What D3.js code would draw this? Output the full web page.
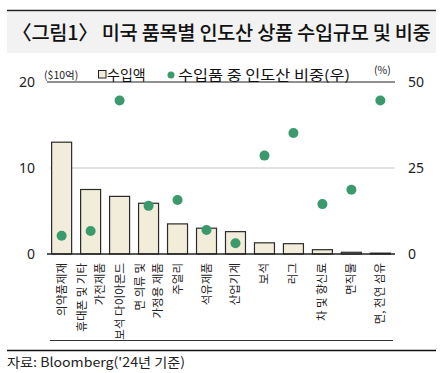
<!DOCTYPE html>
<html>
<head>
<meta charset="utf-8">
<script src="https://cdn.jsdelivr.net/npm/d3@7"></script>
<style>
  body { margin: 0; background: #fff; }
  text { font-family: "Noto Sans CJK KR", "Noto Sans", sans-serif; }
</style>
</head>
<body>
<div id="chart"></div>
<script>
// categories (multi-line labels split by |)
const categories = ["의약품제재", "휴대폰 및 기타|가전제품", "보석 다이아몬드", "면 의류 및|가정용 제품",
  "주얼리", "석유제품", "산업기계", "보석", "러그", "차 및 향신료", "면직물", "면, 천연 섬유"];
// 수입액 ($10억)
const importValue = [13.0, 7.5, 6.7, 5.9, 3.5, 3.0, 2.6, 1.3, 1.2, 0.5, 0.2, 0.1];
// 수입품 중 인도산 비중 (%)
const indiaShare = [5.3, 6.7, 44.6, 14.0, 15.7, 7.0, 3.1, 28.6, 35.2, 14.5, 18.7, 44.6];
const leftTicks = [0, 10, 20];
const rightTicks = [0, 25, 50];

const width = 443, height = 373;
const margin = {top: 82, right: 48, bottom: 119, left: 47};
const plotW = width - margin.left - margin.right;
const plotH = height - margin.top - margin.bottom;

const svg = d3.select("#chart").append("svg")
  .attr("width", width)
  .attr("height", height);

// title band
svg.append("rect").attr("x", 7).attr("y", 12).attr("width", 429).attr("height", 41).attr("fill", "#f2f2f2");
svg.append("line").attr("x1", 7).attr("x2", 436).attr("y1", 10.5).attr("y2", 10.5)
  .attr("stroke", "#222").attr("stroke-width", 1.3);
const title = svg.append("text")
  .attr("x", 12).attr("y", 40)
  .attr("font-size", 21).attr("font-weight", 500).attr("fill", "#111")
  .attr("letter-spacing", -0.3)
  .text("〈그림1〉 미국 품목별 인도산 상품 수입규모 및 비중");
// shrink the font until the title fits the band
let fs = 21;
while (title.node().getComputedTextLength() > 420 && fs > 14) {
  fs -= 0.25;
  title.attr("font-size", fs);
}

const g = svg.append("g").attr("transform", `translate(${margin.left},${margin.top})`);

const x = d3.scaleBand().domain(categories).range([0, plotW]).paddingInner(0.31).paddingOuter(0.16);
const yL = d3.scaleLinear().domain([0, 20]).range([plotH, 0]);
const yR = d3.scaleLinear().domain([0, 50]).range([plotH, 0]);

// gridline at 10
g.append("g").selectAll("line").data([10]).join("line")
  .attr("x1", 3).attr("x2", plotW)
  .attr("y1", d => yL(d)).attr("y2", d => yL(d))
  .attr("stroke", "#d9d9d9").attr("stroke-width", 1.5);

// left axis
const leftAxis = g.append("g").call(d3.axisLeft(yL).tickValues(leftTicks).tickSize(0).tickPadding(12));
leftAxis.select(".domain").remove();
leftAxis.selectAll("text").attr("font-size", 14).attr("fill", "#222")
  .style("font-family", "'Noto Sans', sans-serif");

// right axis
const rightAxis = g.append("g").attr("transform", `translate(${plotW},0)`)
  .call(d3.axisRight(yR).tickValues(rightTicks).tickSize(0).tickPadding(13));
rightAxis.select(".domain").remove();
rightAxis.selectAll("text").attr("font-size", 14).attr("fill", "#222")
  .style("font-family", "'Noto Sans', sans-serif");

// bars
g.selectAll("rect.bar").data(categories).join("rect")
  .attr("class", "bar")
  .attr("x", d => x(d))
  .attr("y", (d, i) => yL(importValue[i]))
  .attr("width", x.bandwidth())
  .attr("height", (d, i) => plotH - yL(importValue[i]))
  .attr("fill", "#f2ecdb")
  .attr("stroke", "#2b2b2b").attr("stroke-width", 1.2);

// baseline + legend line
g.append("line").attr("x1", 0).attr("x2", plotW).attr("y1", plotH).attr("y2", plotH)
  .attr("stroke", "#222").attr("stroke-width", 1.3);
g.append("line").attr("x1", 0).attr("x2", plotW).attr("y1", 0).attr("y2", 0)
  .attr("stroke", "#222").attr("stroke-width", 1.2);

// dots
g.selectAll("circle.dot").data(categories).join("circle")
  .attr("class", "dot")
  .attr("cx", d => x(d) + x.bandwidth() / 2)
  .attr("cy", (d, i) => yR(indiaShare[i]))
  .attr("r", 5)
  .attr("fill", "#3a9a6b");

// category labels, rotated
const labels = g.append("g").attr("transform", `translate(0,${plotH + 9})`);
categories.forEach(function(c) {
  const lines = c.split("|");
  const cx = x(c) + x.bandwidth() / 2;
  lines.forEach(function(line, j) {
    const off = (j - (lines.length - 1) / 2) * 18;
    labels.append("text")
      .attr("transform", `translate(${cx + off + 4},0) rotate(-90)`)
      .attr("text-anchor", "end")
      .attr("font-size", 11.5)
      .attr("fill", "#222")
      .text(line);
  });
});

// units
svg.append("text").attr("x", 44).attr("y", 79).attr("font-size", 10.5).attr("fill", "#222").text("($10억)");
svg.append("text").attr("x", 374).attr("y", 74).attr("font-size", 10.5).attr("fill", "#222").text("(%)");

// legend
svg.append("rect").attr("x", 98.5).attr("y", 70.5).attr("width", 7.5).attr("height", 7.5)
  .attr("fill", "#f2ecdb").attr("stroke", "#222").attr("stroke-width", 1);
svg.append("text").attr("x", 107).attr("y", 80).attr("font-size", 14).attr("fill", "#111").text("수입액");
svg.append("circle").attr("cx", 171).attr("cy", 75).attr("r", 3.5).attr("fill", "#3a9a6b");
svg.append("text").attr("x", 178).attr("y", 80).attr("font-size", 14).attr("fill", "#111")
  .attr("textLength", 172).attr("lengthAdjust", "spacingAndGlyphs")
  .text("수입품 중 인도산 비중(우)");

// bottom lines
svg.append("line").attr("x1", 50).attr("x2", 393).attr("y1", 340.5).attr("y2", 340.5)
  .attr("stroke", "#333").attr("stroke-width", 1);
svg.append("line").attr("x1", 7).attr("x2", 436).attr("y1", 350.5).attr("y2", 350.5)
  .attr("stroke", "#111").attr("stroke-width", 1.3);

// source
svg.append("text").attr("x", 7).attr("y", 367).attr("font-size", 13).attr("fill", "#222")
  .attr("textLength", 178).attr("lengthAdjust", "spacingAndGlyphs")
  .text("자료: Bloomberg('24년 기준)");
</script>
</body>
</html>
